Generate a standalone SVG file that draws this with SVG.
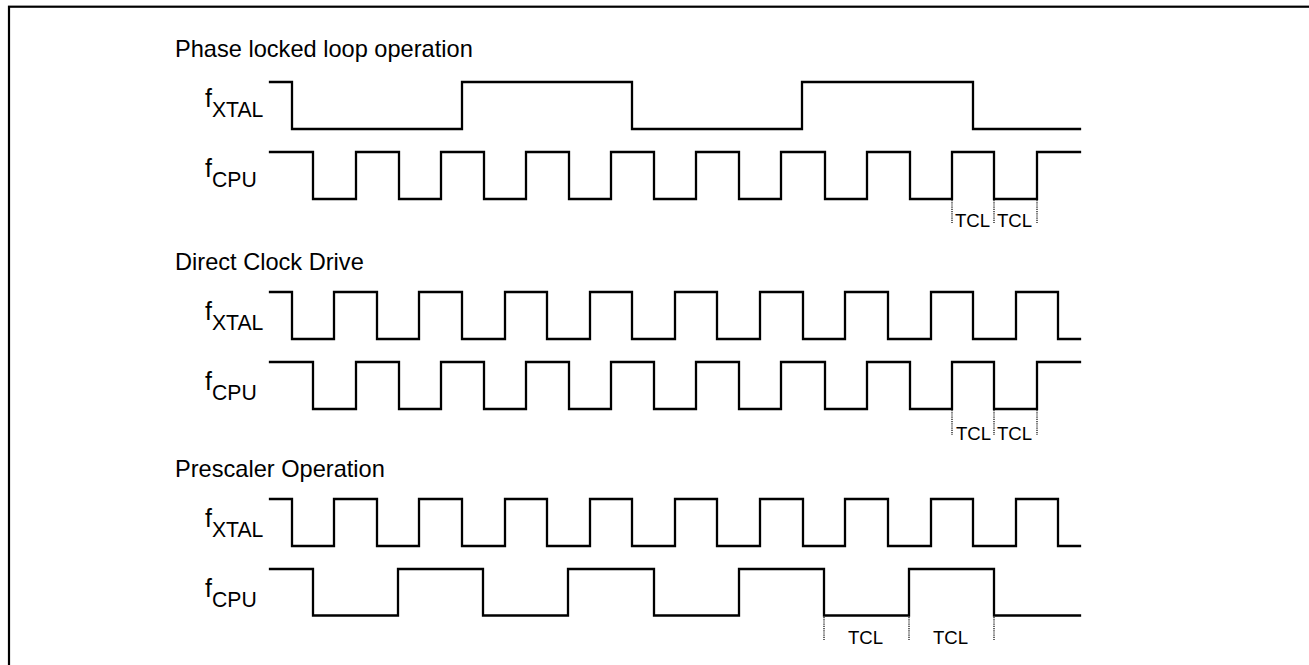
<svg xmlns="http://www.w3.org/2000/svg" width="1309" height="665" viewBox="0 0 1309 665">
<style>
.t{font-family:"Liberation Sans",Arial,sans-serif;font-size:23.6px;fill:#000}
.f{font-family:"Liberation Sans",Arial,sans-serif;font-size:25px;fill:#000}
.s{font-family:"Liberation Sans",Arial,sans-serif;font-size:21.2px;fill:#000}
.tcl{font-family:"Liberation Sans",Arial,sans-serif;font-size:18.6px;fill:#000}
.w{fill:none;stroke:#000;stroke-width:2.3;stroke-linejoin:miter;stroke-linecap:square}
.d{fill:none;stroke:#555;stroke-width:1.8;stroke-dasharray:1.2 1}
</style>
<rect x="9" y="6.7" width="1320" height="680" fill="#fff" stroke="#000" stroke-width="2.2"/>
<g id="titles">
<text class="t" x="175" y="57">Phase locked loop operation</text>
<text class="t" x="175" y="270">Direct Clock Drive</text>
<text class="t" x="175" y="477">Prescaler Operation</text>
</g>
<g id="labels">
<text x="205" y="107"><tspan class="f">f</tspan><tspan class="s" dy="10">XTAL</tspan></text>
<text x="205" y="177"><tspan class="f">f</tspan><tspan class="s" dy="10">CPU</tspan></text>
<text x="205" y="320"><tspan class="f">f</tspan><tspan class="s" dy="10">XTAL</tspan></text>
<text x="205" y="390"><tspan class="f">f</tspan><tspan class="s" dy="10">CPU</tspan></text>
<text x="205" y="527"><tspan class="f">f</tspan><tspan class="s" dy="10">XTAL</tspan></text>
<text x="205" y="597"><tspan class="f">f</tspan><tspan class="s" dy="10">CPU</tspan></text>
</g>
<g id="connectors">
<path id="pll-xtal" class="w" d="M270,82 H292 V129 H462 V82 H632 V129 H802 V82 H973 V129 H1080"/>
<path id="pll-cpu" class="w" d="M270,152 H313 V199 H356 V152 H399 V199 H441 V152 H484 V199 H526 V152 H569 V199 H611 V152 H654 V199 H696 V152 H739 V199 H781 V152 H825 V199 H867 V152 H910 V199 H952 V152 H994 V199 H1037 V152 H1080"/>
<path id="dir-xtal" class="w" d="M270,292 H292 V339 H334 V292 H377 V339 H419 V292 H462 V339 H505 V292 H547 V339 H590 V292 H632 V339 H675 V292 H717 V339 H760 V292 H803 V339 H845 V292 H888 V339 H931 V292 H973 V339 H1016 V292 H1058 V339 H1080"/>
<path id="dir-cpu" class="w" d="M270,362 H313 V409 H356 V362 H399 V409 H441 V362 H484 V409 H526 V362 H569 V409 H611 V362 H654 V409 H696 V362 H739 V409 H781 V362 H825 V409 H867 V362 H910 V409 H952 V362 H994 V409 H1037 V362 H1080"/>
<path id="pre-xtal" class="w" d="M270,499 H292 V546 H334 V499 H377 V546 H419 V499 H462 V546 H505 V499 H547 V546 H590 V499 H632 V546 H675 V499 H717 V546 H760 V499 H803 V546 H845 V499 H888 V546 H931 V499 H973 V546 H1016 V499 H1058 V546 H1080"/>
<path id="pre-cpu" class="w" d="M270,569 H313 V615.5 H398 V569 H483 V615.5 H568 V569 H654 V615.5 H739 V569 H824 V615.5 H909 V569 H994 V615.5 H1080"/>
</g>
<g id="tcl-marks">
<path class="d" d="M952,200 V223 M994,200 V223 M1037,200 V223"/>
<path class="d" d="M952,410 V435 M994,410 V435 M1037,410 V435"/>
<path class="d" d="M824,617 V640 M909,617 V640 M994,617 V640"/>
<text class="tcl" x="955" y="227">TCL</text>
<text class="tcl" x="997" y="227">TCL</text>
<text class="tcl" x="956" y="440">TCL</text>
<text class="tcl" x="997" y="440">TCL</text>
<text class="tcl" x="848" y="644">TCL</text>
<text class="tcl" x="933" y="644">TCL</text>
</g>
</svg>
